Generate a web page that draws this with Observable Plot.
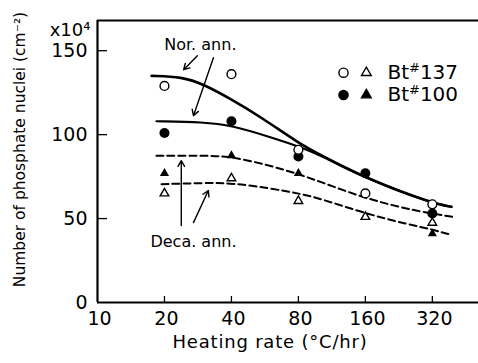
<!DOCTYPE html>
<html><head><meta charset="utf-8">
<script src="https://cdn.jsdelivr.net/npm/d3@7"></script>
<script src="https://cdn.jsdelivr.net/npm/@observablehq/plot@0.6"></script>
<style>body{margin:0;background:#fff}</style>
</head><body><div id="chart"></div>
<script>
// ---- data ----
const xTicks = [10, 20, 40, 80, 160, 320];
const yTicks = [0, 50, 100, 150];
const rates = [20, 40, 80, 160, 320];
const open137 = [129, 136, 91, 65, 58.5];      // open circles, Bt#137 (Nor. ann.)
const filled100 = [101, 108, 87, 77, 53];      // filled circles, Bt#100 (Nor. ann.)
const tri137 = [65, 74, 60.5, 51, 47.5];       // open triangles, Bt#137 (Deca. ann.)
const tri100 = [77, 87.5, 77, null, 41];       // filled triangles, Bt#100 (Deca. ann.)

// fitted curves
const norX137 = [17.5, 24, 30, 40, 55, 80, 100, 160, 320, 390];
const norY137 = [135, 134.5, 130, 121, 110, 95, 88, 74, 59, 57];
const norX100 = [18.4, 30, 40, 60, 80, 100, 160, 320, 390];
const norY100 = [108, 107.5, 105.5, 98.5, 93, 88, 74, 59, 57];
const decX100 = [18.4, 30, 40, 60, 80, 100, 160, 250, 320, 394];
const decY100 = [87.5, 87.5, 87, 81.5, 76.5, 72, 62, 55.5, 53, 51];
const decX137 = [19.4, 30, 40, 60, 80, 100, 160, 250, 320, 384];
const decY137 = [70.5, 71.2, 71.2, 68, 65, 62, 53, 46.5, 43.5, 40.5];

// annotations
const annTexts = ["Nor. ann.", "Deca. ann."];
const annX = [29, 27];
const annY = [153.6, 36.3];
const arrowX1 = [28.1, 33.2, 23.8, 27];
const arrowY1 = [147, 145.8, 45.8, 47.6];
const arrowX2 = [24.4, 27, 23.8, 31.5];
const arrowY2 = [138.7, 111.3, 84.5, 66.7];

// legend
const legendLabels = ["Bt#137", "Bt#100"];
const legendY = [136.9, 123.6];
const legendCircleX = 127.6, legendTriX = 161.6, legendTextX = 201;

const xLabel = "Heating rate (°C/hr)";
const yLabel = "Number of phosphate nuclei (cm⁻²)";
const yUnit = "x10⁴";

// ---- build ----
const pts = (xs, ys) => xs.map((x, i) => ({x, y: ys[i]})).filter(d => d.y != null);
const font = "DejaVu Sans";

const plot = Plot.plot({
  width: 478, height: 363,
  marginLeft: 97, marginTop: 20, marginBottom: 61, marginRight: 0,
  x: {type: "log", domain: [10, 516], axis: null},
  y: {domain: [0, 168], axis: null},
  style: {fontFamily: font, color: "#000", background: "#fff"},
  marks: [
    Plot.ruleX([10], {strokeWidth: 2.2}),
    Plot.ruleY([0], {strokeWidth: 2.2}),
    Plot.ruleY([168], {strokeWidth: 2}),
    // inward tick marks
    Plot.ruleX(xTicks.slice(1), {x: d => d, y1: 0, y2: 0, insetBottom: 6, strokeWidth: 1.3}),
    Plot.ruleY(yTicks.slice(1), {y: d => d, x1: 10, x2: 10, insetRight: -10, strokeWidth: 1.3}),
    // tick labels
    Plot.text(xTicks, {x: d => d, frameAnchor: "bottom", lineAnchor: "top", dy: 9, dx: 2, text: d => String(d), fontSize: 19}),
    Plot.text(yTicks, {y: d => d, frameAnchor: "left", textAnchor: "end", dx: -10, text: d => String(d), fontSize: 19}),
    // curves
    Plot.line(pts(norX137, norY137), {x: "x", y: "y", strokeWidth: 2.6, curve: "basis"}),
    Plot.line(pts(norX100, norY100), {x: "x", y: "y", strokeWidth: 2.1, curve: "basis"}),
    Plot.line(pts(decX100, decY100), {x: "x", y: "y", strokeWidth: 2, strokeDasharray: "7,4", curve: "basis"}),
    Plot.line(pts(decX137, decY137), {x: "x", y: "y", strokeWidth: 2, strokeDasharray: "7,4", curve: "basis"}),
    // points
    Plot.dot(pts(rates, filled100), {x: "x", y: "y", r: 5, fill: "#000", stroke: "none"}),
    Plot.dot(pts(rates, tri100), {x: "x", y: "y", symbol: "triangle", r: 3.4, fill: "#000", stroke: "none"}),
    Plot.dot(pts(rates, tri137), {x: "x", y: "y", symbol: "triangle", r: 3.2, fill: "#fff", stroke: "#000", strokeWidth: 1.4}),
    Plot.dot(pts(rates, open137), {x: "x", y: "y", r: 4.4, fill: "#fff", stroke: "#000", strokeWidth: 1.4}),
    // annotations
    Plot.text(annTexts, {x: (d, i) => annX[i], y: (d, i) => annY[i], text: d => d, fontSize: 16}),
    Plot.arrow(arrowX1, {x1: (d, i) => arrowX1[i], y1: (d, i) => arrowY1[i], x2: (d, i) => arrowX2[i], y2: (d, i) => arrowY2[i], strokeWidth: 1.4, headLength: 7}),
    // legend
    Plot.dot(legendY, {x: () => legendCircleX, y: d => d, r: 4.6, fill: (d, i) => i ? "#000" : "#fff", stroke: "#000", strokeWidth: 1.4}),
    Plot.dot(legendY, {x: () => legendTriX, y: d => d, symbol: "triangle", r: 3.6, fill: (d, i) => i ? "#000" : "#fff", stroke: "#000", strokeWidth: 1.4}),
    Plot.text(legendLabels, {x: () => legendTextX, y: (d, i) => legendY[i], text: d => d, textAnchor: "start", fontSize: 20}),
    // unit and axis titles
    Plot.text([yUnit], {frameAnchor: "top-left", dx: -7, dy: 3, textAnchor: "end", fontSize: 18}),
    Plot.text([xLabel], {frameAnchor: "bottom", dx: -18, dy: 45, textAnchor: "middle", fontSize: 18}),
    Plot.text([yLabel], {frameAnchor: "left", rotate: -90, dx: -77, dy: -12, textAnchor: "middle", fontSize: 15.5})
  ]
});

// superscript '#', letter spacing on x label
d3.select(plot).selectAll("text").each(function() {
  const t = d3.select(this);
  if (!t.selectAll("tspan").empty()) return;
  const s = t.text();
  if (s === xLabel) { t.attr("letter-spacing", "0.8px"); return; }
  const i = s.indexOf("#");
  if (i < 0) return;
  t.text("");
  t.append("tspan").text(s.slice(0, i));
  t.append("tspan").attr("dy", -7).attr("font-size", 13).text("#");
  t.append("tspan").attr("dy", 7).text(s.slice(i + 1));
});

document.getElementById("chart").appendChild(plot);
</script>
</body></html>
